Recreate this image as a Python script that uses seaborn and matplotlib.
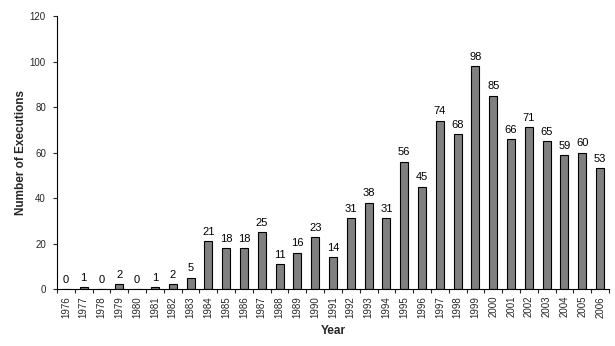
import matplotlib
matplotlib.use("Agg")
import matplotlib.pyplot as plt
import seaborn as sns
import pandas as pd

years = [str(y) for y in range(1976, 2007)]
executions = [0, 1, 0, 2, 0, 1, 2, 5, 21, 18, 18, 25, 11, 16, 23, 14, 31, 38, 31,
              56, 45, 74, 68, 98, 85, 66, 71, 65, 59, 60, 53]

sns.set_theme(style="white")
plt.rcParams['font.family'] = ['Liberation Sans', 'DejaVu Sans']

df = pd.DataFrame({"Year": years, "Executions": executions})

fig = plt.figure(figsize=(6.15, 3.46), dpi=100)
ax = fig.add_axes([57/615, 1 - 289/346, 552/615, (289-16)/346])
sns.barplot(data=df, x="Year", y="Executions", color="#808080", saturation=1,
            edgecolor="black", linewidth=0.8, width=0.45, ax=ax)

ax.set_xlim(-0.5, len(years) - 0.5)
ax.set_ylim(0, 120)
ax.set_yticks(range(0, 121, 20))
ax.tick_params(axis='y', labelsize=7, length=3, width=0.8, direction='out', left=True, pad=5)
ax.set_xticks([i for i in range(len(years))])
ax.set_xticklabels(years, rotation=90, fontsize=7)
ax.tick_params(axis='x', length=0, pad=5)
# boundary tick marks
ax.set_xticks([i - 0.5 for i in range(len(years) + 1)], minor=True)
ax.tick_params(axis='x', which='minor', length=3, width=0.8, direction='out', bottom=True)

for s in ['top', 'right']:
    ax.spines[s].set_visible(False)
for s in ['left', 'bottom']:
    ax.spines[s].set_color('black')
    ax.spines[s].set_linewidth(0.8)

for i, v in enumerate(executions):
    ax.annotate(str(v), (i, v), xytext=(0, 3), textcoords='offset points',
                ha='center', va='bottom', fontsize=8, color='black')

ax.set_xlabel("Year", fontsize=8.5, fontweight='bold', labelpad=5.5)
ax.set_ylabel("Number of Executions", fontsize=8.5, fontweight='bold', labelpad=2)

fig.savefig("out.png", dpi=100)
